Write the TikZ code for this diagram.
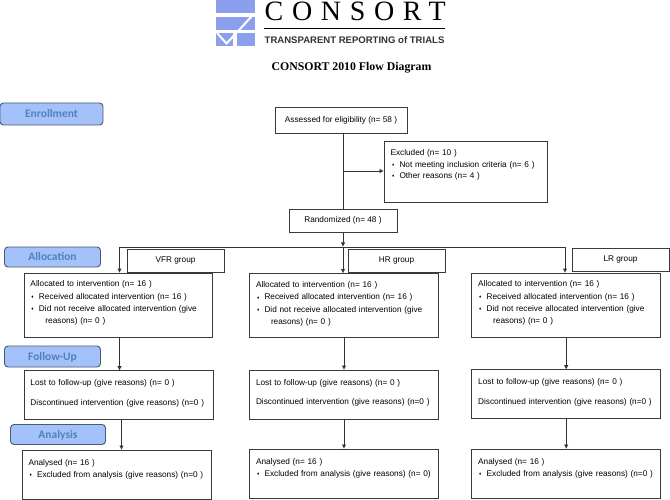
\documentclass[tikz,border=0pt]{standalone}
\usepackage{fontspec}
\setmainfont{Liberation Sans}
\newfontfamily\serifface{Liberation Serif}
\newfontfamily\stageface{Carlito}
\usetikzlibrary{arrows.meta}
\definecolor{logoblue}{HTML}{8C9FEE}
\definecolor{stagefill}{HTML}{A4C2F9}
\definecolor{stageline}{HTML}{4A5872}
\definecolor{stagetext}{HTML}{4F81BD}
\definecolor{boxline}{HTML}{3A3A3A}
\newcommand{\mk}{\makebox[7.5pt][l]{\raisebox{.6pt}{\fontsize{4.5}{5}\selectfont ♦}}}
\newcommand{\alloctext}{Allocated to intervention (n= 16 )\\
\hspace*{1pt}\mk Received allocated intervention (n= 16 )\\
\hspace*{1pt}\mk Did not receive allocated intervention (give\\
\hspace*{15pt}reasons) (n= 0 )}
\tikzset{
flowbox/.style={draw=boxline, line width=.9pt, anchor=north west, outer sep=0pt, inner xsep=6.5pt, inner ysep=0pt,
  text width=#1-13pt, minimum width=#1, align=left, font=\fontsize{8.25}{12.3}\selectfont},
groupbox/.style={draw=boxline, line width=.9pt, anchor=north west, outer sep=0pt, minimum width=97pt, minimum height=23pt, font=\fontsize{8.25}{10}\selectfont},
stage/.style={draw=stageline, fill=stagefill, line width=.9pt, rounded corners=3.5pt, anchor=north west, outer sep=0pt, inner sep=0pt,
  minimum width=96pt, text=stagetext, text height=9pt, text depth=1pt, font=\stageface\bfseries\fontsize{11.5}{13}\selectfont},
flow/.style={draw=black!80, line width=.9pt, -{Latex[length=4.5pt,width=4.5pt]}},
plain/.style={draw=black!80, line width=.9pt}
}
\begin{document}
\begin{tikzpicture}[x=1pt,y=-1pt]
\useasboundingbox (0,0) rectangle (670,500);
% logo
\fill[logoblue] (215.5,0) rectangle (255,13);
\fill[logoblue] (215.5,17) rectangle (255,30);
\fill[logoblue] (215.5,33.5) rectangle (233,46.5);
\fill[logoblue] (237,33.5) rectangle (255,46.5);
\draw[white, line width=2pt] (217,33) -- (226.5,43.5) -- (252,16);
\node[font=\serifface\fontsize{28}{30}\selectfont, inner sep=0pt, anchor=base west] (logotext) at (264.5,21)
  {\addfontfeatures{LetterSpace=31}CONSORT};
\draw[black, line width=.8pt] (264,28.5) -- (445,28.5);
\node[font=\bfseries\fontsize{9.55}{11}\selectfont, text=black!80, inner sep=0pt, anchor=base west] (logosub) at (264.5,43.5)
  {TRANSPARENT REPORTING of TRIALS};
\node[font=\serifface\bfseries\fontsize{11.8}{13}\selectfont, inner sep=0pt] (title) at (351.5,68) {CONSORT 2010 Flow Diagram};
% stages
\node[stage, minimum width=103pt, minimum height=22pt] (enrollment) at (0,103) {Enrollment};
\node[stage, minimum width=96pt, minimum height=20pt] (allocation) at (4.5,247) {Allocation};
\node[stage, minimum width=96pt, minimum height=21pt] (followup) at (4.5,346) {Follow-Up};
\node[stage, minimum width=95pt, minimum height=20pt] (analysis) at (10.5,424.5) {Analysis};
% top
\node[groupbox, minimum width=132pt, minimum height=26pt] (assessed) at (275,107) {Assessed for eligibility (n= 58 )};
\node[flowbox=163pt, minimum height=61pt, text depth=46pt, text height=15pt] (excluded) at (384,141) {Excluded  (n= 10  )\\[-1pt]
\hspace*{1.5pt}\mk Not meeting inclusion criteria (n= 6 )\\[-1pt]
\hspace*{1.5pt}\mk Other reasons (n= 4 )};
\node[groupbox, minimum width=108pt, minimum height=23pt] (randomized) at (289,209) {Randomized (n= 48 )};
% groups
\node[groupbox] (vfr) at (127,249) {VFR group};
\node[groupbox] (hr) at (348,249) {HR group};
\node[groupbox] (lr) at (572,248) {LR group};
% allocation
\node[flowbox=188pt, minimum height=64pt, text depth=50pt, text height=14pt] (allocVFR) at (24,273) {\alloctext};
\node[flowbox=189pt, minimum height=64pt, text depth=50pt, text height=14pt] (allocHR) at (249.5,273.5) {\alloctext};
\node[flowbox=189pt, minimum height=64pt, text depth=50pt, text height=14pt] (allocLR) at (471.7,273) {\alloctext};
% follow-up
\node[flowbox=189pt, minimum height=49pt, text depth=34pt, text height=15pt] (lostVFR) at (24,370.7) {Lost to follow-up (give reasons) (n= 0 )\\[7.5pt]
Discontinued intervention (give reasons) (n=0 )};
\node[flowbox=189pt, minimum height=49pt, text depth=34pt, text height=15pt] (lostHR) at (249.5,370) {Lost to follow-up (give reasons) (n= 0 )\\[7.5pt]
Discontinued intervention (give reasons) (n=0 )};
\node[flowbox=189pt, minimum height=48.5pt, text depth=33.5pt, text height=15pt] (lostLR) at (471.7,369.7) {Lost to follow-up (give reasons) (n= 0 )\\[7.5pt]
Discontinued intervention (give reasons) (n=0 )};
% analysis
\node[flowbox=189pt, minimum height=49pt, text depth=34pt, text height=15pt] (anaVFR) at (22,450) {Analysed  (n= 16 )\\
\mbox{\hspace*{1pt}\mk Excluded from analysis (give reasons) (n=0 )}};
\node[flowbox=189pt, minimum height=49pt, text depth=34pt, text height=15pt] (anaHR) at (249.5,449) {Analysed  (n= 16 )\\
\mbox{\hspace*{1pt}\mk Excluded from analysis (give reasons) (n= 0)}};
\node[flowbox=189pt, minimum height=49pt, text depth=34pt, text height=15pt] (anaLR) at (471.7,449) {Analysed  (n= 16 )\\
\mbox{\hspace*{1pt}\mk Excluded from analysis (give reasons) (n=0 )}};
% connectors
\coordinate (stem) at (343,133);
\coordinate (branch) at (343,171);
\coordinate (hub) at (343,247);
\coordinate (hubL) at (119.5,247);
\coordinate (hubR) at (565,247);
\draw[plain] (stem) -- (randomized.north -| stem);
\draw[flow] (branch) -- (excluded.west |- branch);
\draw[flow] (randomized.south -| hub) -- (hub);
\draw[flow] (hub) -- (allocHR.north -| hub);
\draw[plain] (hubL) -- (hubR);
\draw[flow] (hubL) -- (allocVFR.north -| hubL);
\draw[flow] (hubR) -- (allocLR.north -| hubR);
\draw[flow] ([xshift=1.5pt]allocVFR.south) -- ([xshift=1pt]lostVFR.north);
\draw[flow] ([xshift=3pt]lostVFR.south) -- ([xshift=5pt]anaVFR.north);
\draw[flow] (allocHR) -- (lostHR);
\draw[flow] (lostHR) -- (anaHR);
\draw[flow] (allocLR) -- (lostLR);
\draw[flow] (lostLR) -- (anaLR);
\end{tikzpicture}
\end{document}
